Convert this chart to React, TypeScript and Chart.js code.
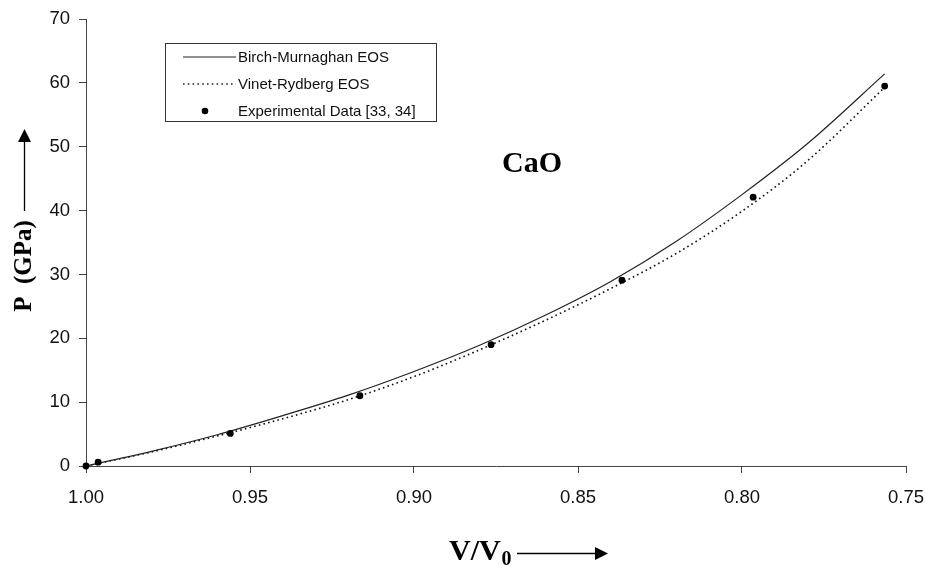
import React, { useEffect, useRef } from "react";
import { Chart, registerables } from "chart.js";

Chart.register(...registerables);

// Relative volume V/V0 at which the equation-of-state curves are sampled
const curveVolume = [1.0, 0.98, 0.96, 0.94, 0.92, 0.9, 0.88, 0.86, 0.84, 0.82, 0.8, 0.78, 0.7565];
// Pressure (GPa) from the Birch-Murnaghan EOS
const birchMurnaghanP = [0, 2.3, 4.9, 7.9, 11.1, 14.8, 18.9, 23.6, 28.9, 35.2, 42.5, 50.5, 61.4];
// Pressure (GPa) from the Vinet-Rydberg EOS
const vinetRydbergP = [0, 2.2, 4.7, 7.4, 10.4, 14.0, 18.2, 22.8, 27.8, 33.3, 39.9, 47.8, 59.3];

// Experimental data [33, 34]
const expVolume = [1.0, 0.9963, 0.956, 0.9165, 0.8765, 0.8366, 0.7966, 0.7565];
const expPressure = [0, 0.6, 5.1, 11.0, 19.0, 29.1, 42.1, 59.5];

const legendLabels = ["Birch-Murnaghan EOS", "Vinet-Rydberg EOS", "Experimental Data [33, 34]"];
const compoundLabel = "CaO";

const SANS = "'Liberation Sans', Arial, sans-serif";
const SERIF = "'Liberation Serif', 'Times New Roman', serif";

const toPoints = (xs: number[], ys: number[]) => xs.map((x, i) => ({ x, y: ys[i] }));

const decorations = {
  id: "decorations",
  afterDraw(chart: any) {
    const ctx = chart.ctx as CanvasRenderingContext2D;
    ctx.save();

    // Legend box
    ctx.strokeStyle = "#333";
    ctx.lineWidth = 1;
    ctx.strokeRect(165.5, 43.5, 271, 78);
    ctx.font = `15px ${SANS}`;
    ctx.fillStyle = "#111";
    ctx.textBaseline = "middle";
    ctx.textAlign = "left";
    const rows = [57, 84, 111];
    // solid sample
    ctx.beginPath();
    ctx.strokeStyle = "#222";
    ctx.lineWidth = 1.2;
    ctx.moveTo(183, rows[0]);
    ctx.lineTo(236, rows[0]);
    ctx.stroke();
    // dotted sample
    ctx.beginPath();
    ctx.setLineDash([1.6, 3.2]);
    ctx.lineWidth = 1.6;
    ctx.moveTo(183, rows[1]);
    ctx.lineTo(236, rows[1]);
    ctx.stroke();
    ctx.setLineDash([]);
    // marker sample
    ctx.beginPath();
    ctx.fillStyle = "#000";
    ctx.arc(205, rows[2], 3.3, 0, Math.PI * 2);
    ctx.fill();
    ctx.fillStyle = "#111";
    legendLabels.forEach((t, i) => ctx.fillText(t, 238, rows[i] + 1));

    // Compound label
    ctx.font = `bold 30px ${SERIF}`;
    ctx.textAlign = "center";
    ctx.textBaseline = "alphabetic";
    ctx.fillStyle = "#000";
    ctx.fillText(compoundLabel, 532, 172);

    // Y axis title with upward arrow
    ctx.save();
    ctx.translate(31, 266);
    ctx.rotate(-Math.PI / 2);
    ctx.font = `bold 25px ${SERIF}`;
    ctx.textAlign = "center";
    ctx.fillText("P  (GPa)", 0, 0);
    ctx.restore();
    ctx.strokeStyle = "#000";
    ctx.lineWidth = 1.3;
    ctx.beginPath();
    ctx.moveTo(24.5, 211);
    ctx.lineTo(24.5, 140);
    ctx.stroke();
    ctx.beginPath();
    ctx.moveTo(24.5, 129);
    ctx.lineTo(18, 142);
    ctx.lineTo(31, 142);
    ctx.closePath();
    ctx.fill();

    // X axis title with subscript and rightward arrow
    ctx.font = `bold 30px ${SERIF}`;
    ctx.textAlign = "left";
    ctx.fillText("V/V", 449, 560);
    ctx.font = `bold 20px ${SERIF}`;
    ctx.fillText("0", 501.5, 565);
    ctx.beginPath();
    ctx.moveTo(517, 553.5);
    ctx.lineTo(597, 553.5);
    ctx.stroke();
    ctx.beginPath();
    ctx.moveTo(608, 553.5);
    ctx.lineTo(595, 547);
    ctx.lineTo(595, 560);
    ctx.closePath();
    ctx.fill();

    ctx.restore();
  },
};

export default function App() {
  const canvasRef = useRef<HTMLCanvasElement | null>(null);

  useEffect(() => {
    const canvas = canvasRef.current;
    if (!canvas) return;
    const chart = new Chart(canvas, {
      type: "scatter",
      data: {
        datasets: [
          {
            label: legendLabels[0],
            data: toPoints(curveVolume, birchMurnaghanP),
            showLine: true,
            borderColor: "#222",
            borderWidth: 1.2,
            pointRadius: 0,
            cubicInterpolationMode: "monotone",
            order: 2,
          },
          {
            label: legendLabels[1],
            data: toPoints(curveVolume, vinetRydbergP),
            showLine: true,
            borderColor: "#111",
            borderWidth: 1.6,
            borderDash: [1.6, 3.2],
            pointRadius: 0,
            cubicInterpolationMode: "monotone",
            order: 3,
          },
          {
            label: legendLabels[2],
            data: toPoints(expVolume, expPressure),
            showLine: false,
            pointRadius: 3.4,
            pointBackgroundColor: "#000",
            pointBorderColor: "#000",
            pointBorderWidth: 0,
            clip: false,
            order: 1,
          },
        ],
      },
      options: {
        animation: false,
        responsive: false,
        events: [],
        layout: { padding: { top: 19, right: 19, left: 0, bottom: 0 } },
        plugins: { legend: { display: false }, tooltip: { enabled: false } },
        scales: {
          x: {
            type: "linear",
            reverse: true,
            min: 0.75,
            max: 1.0,
            afterFit: (s: any) => {
              s.height = 100;
              s.paddingLeft = 0;
              s.paddingRight = 0;
            },
            ticks: {
              stepSize: 0.05,
              padding: 14,
              color: "#111",
              font: { family: SANS, size: 18.5 },
              callback: (v: any) => Number(v).toFixed(2),
              maxRotation: 0,
            },
            grid: { drawOnChartArea: false, drawTicks: true, tickLength: 7, color: "#444" },
            border: { display: true, color: "#444", width: 1 },
          },
          y: {
            min: 0,
            max: 70,
            afterFit: (s: any) => {
              s.width = 86;
              s.paddingTop = 0;
              s.paddingBottom = 0;
            },
            ticks: {
              stepSize: 10,
              padding: 9,
              color: "#111",
              font: { family: SANS, size: 18.5 },
            },
            grid: { drawOnChartArea: false, drawTicks: true, tickLength: 7, color: "#444" },
            border: { display: true, color: "#444", width: 1 },
          },
        },
      },
      plugins: [decorations],
    });
    return () => chart.destroy();
  }, []);

  return (
    <div style={{ position: "absolute", left: 0, top: 0, width: 925, height: 566, background: "#fff" }}>
      <canvas ref={canvasRef} width={925} height={566} style={{ display: "block" }} />
    </div>
  );
}
